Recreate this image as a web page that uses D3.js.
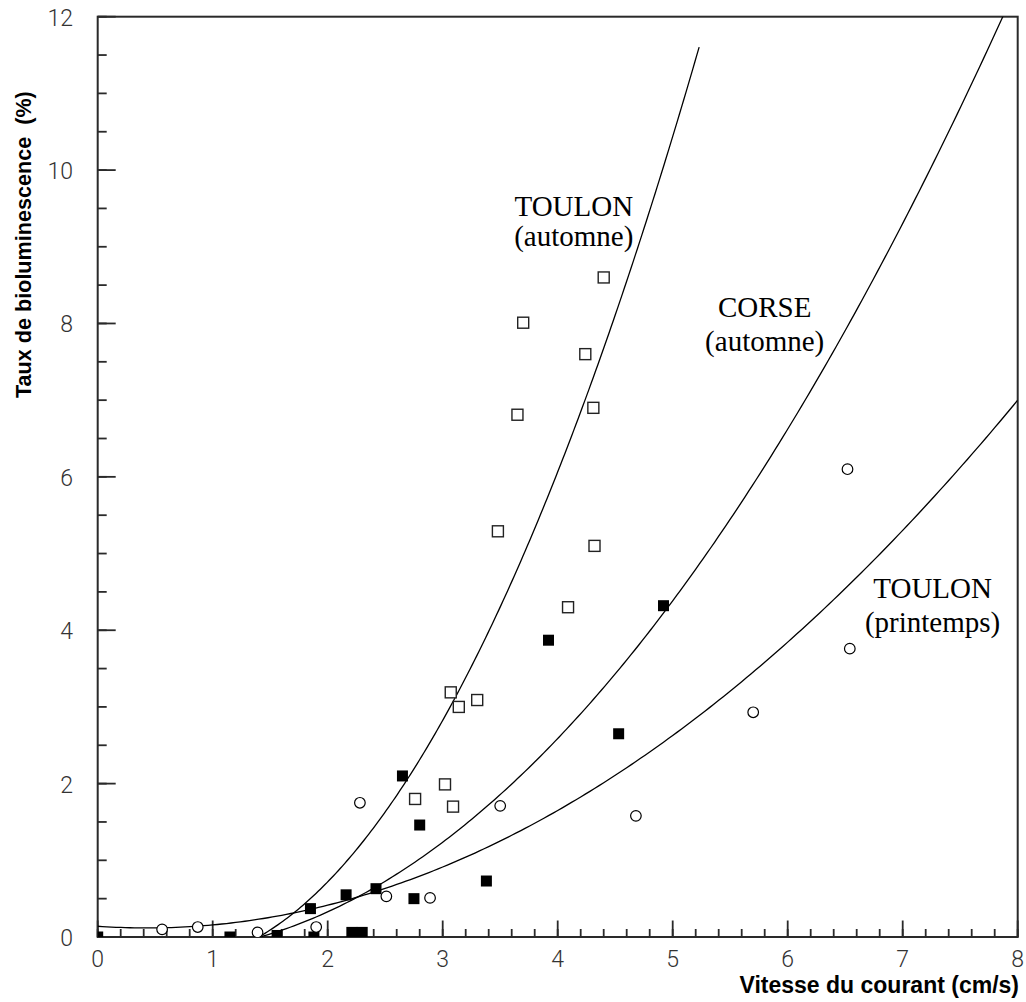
<!DOCTYPE html>
<html>
<head>
<meta charset="utf-8">
<script src="https://cdn.jsdelivr.net/npm/d3@7"></script>
<style>
  html, body { margin: 0; padding: 0; background: #fff; }
  svg { display: block; }
</style>
</head>
<body>
<svg id="chart" width="1026" height="1002"></svg>
<script>
// Measurements: current speed (cm/s) vs bioluminescence rate (%)
const toulonAutomnePts = [
  [2.76, 1.80], [3.02, 1.99], [3.09, 1.70], [3.07, 3.19], [3.14, 3.00],
  [3.30, 3.09], [3.48, 5.29], [3.65, 6.81], [3.70, 8.01], [4.09, 4.30],
  [4.24, 7.60], [4.31, 6.90], [4.32, 5.10], [4.40, 8.60]
];
const corseAutomnePts = [
  [0.00, 0.00], [1.15, 0.00], [1.56, 0.02], [1.88, 0.00], [2.21, 0.06],
  [2.30, 0.06], [1.85, 0.37], [2.16, 0.55], [2.42, 0.63], [2.75, 0.50],
  [2.65, 2.10], [2.80, 1.46], [3.38, 0.73], [3.92, 3.87], [4.53, 2.65],
  [4.92, 4.32]
];
const toulonPrintempsPts = [
  [0.56, 0.10], [0.87, 0.13], [1.39, 0.06], [1.90, 0.13], [2.28, 1.75],
  [2.51, 0.53], [2.89, 0.51], [3.50, 1.71], [4.68, 1.58], [5.70, 2.93],
  [6.52, 6.10], [6.54, 3.76]
];

// Quadratic trend fits y = a*x^2 + b*x + c, with the x range each is drawn over
const toulonAutomneFit = [0.5668, -0.728, -0.092];
const toulonAutomneRange = [1.40, 5.23];
const corseAutomneFit = [0.2217, -0.200, -0.159];
const corseAutomneRange = [1.41, 8.0];
const toulonPrintempsFit = [0.12, -0.1025, 0.14];
const toulonPrintempsRange = [0.0, 8.0];

const xTicks = [0, 1, 2, 3, 4, 5, 6, 7, 8];
const yTicks = [0, 2, 4, 6, 8, 10, 12];
const xTitle = "Vitesse du courant (cm/s)";
const yTitle = "Taux de bioluminescence  (%)";

const curveLabels = [
  { lines: ["TOULON", "(automne)"], x: 4.14, y: [9.40, 9.01] },
  { lines: ["CORSE", "(automne)"], x: 5.80, y: [8.08, 7.64] },
  { lines: ["TOULON", "(printemps)"], x: 7.26, y: [4.42, 3.98] }
];

const svg = d3.select("#chart");
const plot = { left: 97.7, right: 1017.7, top: 16.7, bottom: 937 };

const x = d3.scaleLinear().domain([0, 8]).range([plot.left, plot.right]);
const y = d3.scaleLinear().domain([0, 12]).range([plot.bottom, plot.top]);

svg.append("defs").append("clipPath").attr("id", "plotClip")
  .append("rect").attr("x", plot.left).attr("y", plot.top)
  .attr("width", plot.right - plot.left).attr("height", plot.bottom - plot.top);

const axisColor = "#2a2a2a";

// Frame
svg.append("rect")
  .attr("x", plot.left).attr("y", plot.top)
  .attr("width", plot.right - plot.left).attr("height", plot.bottom - plot.top)
  .attr("fill", "none").attr("stroke", axisColor).attr("stroke-width", 2);

// Ticks pointing into the plot: majors on labelled values, minors between
const xMinor = d3.range(0, 41).map(i => i * 0.2);
const yMinor = d3.range(0, 25).map(i => i * 0.5);
const tickG = svg.append("g");
tickG.selectAll(".xMin").data(xMinor).join("line").attr("class", "xMin")
  .attr("x1", d => x(d)).attr("x2", d => x(d))
  .attr("y1", plot.bottom).attr("y2", plot.bottom - 8)
  .attr("stroke", axisColor).attr("stroke-width", 1.8);
tickG.selectAll(".xMaj").data(xTicks).join("line").attr("class", "xMaj")
  .attr("x1", d => x(d)).attr("x2", d => x(d))
  .attr("y1", plot.bottom).attr("y2", plot.bottom - 16.5)
  .attr("stroke", axisColor).attr("stroke-width", 1.8);
tickG.selectAll(".yMin").data(yMinor).join("line").attr("class", "yMin")
  .attr("x1", plot.left).attr("x2", plot.left + 9)
  .attr("y1", d => y(d)).attr("y2", d => y(d))
  .attr("stroke", axisColor).attr("stroke-width", 1.8);
tickG.selectAll(".yMaj").data(yTicks).join("line").attr("class", "yMaj")
  .attr("x1", plot.left).attr("x2", plot.left + 18)
  .attr("y1", d => y(d)).attr("y2", d => y(d))
  .attr("stroke", axisColor).attr("stroke-width", 1.8);

// Tick labels
const tickFont = "Roboto, 'Liberation Sans', sans-serif";
svg.append("g").selectAll("text").data(xTicks).join("text")
  .attr("x", d => x(d)).attr("y", 967)
  .attr("text-anchor", "middle")
  .attr("font-family", tickFont).attr("font-weight", 300)
  .attr("font-size", 23).attr("fill", "#333")
  .text(d => d);
svg.append("g").selectAll("text").data(yTicks).join("text")
  .attr("x", 73).attr("y", d => y(d) + 9)
  .attr("text-anchor", "end")
  .attr("font-family", tickFont).attr("font-weight", 300)
  .attr("font-size", 23).attr("fill", "#333")
  .text(d => d);

// Axis titles
svg.append("text")
  .attr("x", 1019).attr("y", 993)
  .attr("text-anchor", "end")
  .attr("font-family", "'Liberation Sans', Arial, sans-serif")
  .attr("font-weight", "bold").attr("font-size", 23).attr("fill", "#000")
  .text(xTitle);
svg.append("text")
  .attr("transform", "translate(31,398) rotate(-90)")
  .attr("text-anchor", "start")
  .attr("font-family", "'Liberation Sans', Arial, sans-serif")
  .attr("font-weight", "bold").attr("font-size", 21.6).attr("fill", "#000")
  .style("white-space", "pre")
  .text(yTitle);

// Trend curves, evaluated on a fine grid across each fit's range
const line = d3.line().x(d => x(d[0])).y(d => y(d[1]));
const curves = svg.append("g").attr("clip-path", "url(#plotClip)");
[[toulonAutomneFit, toulonAutomneRange],
 [corseAutomneFit, corseAutomneRange],
 [toulonPrintempsFit, toulonPrintempsRange]].forEach(([[a, b, c], [x0, x1]]) => {
  const n = 200;
  const pts = d3.range(n + 1).map(i => {
    const v = x0 + (x1 - x0) * i / n;
    return [v, a * v * v + b * v + c];
  });
  curves.append("path").attr("d", line(pts))
    .attr("fill", "none").attr("stroke", "#000").attr("stroke-width", 1.3);
});

// Markers
const marks = svg.append("g").attr("clip-path", "url(#plotClip)");
const sq = 11;
marks.selectAll(".openSq").data(toulonAutomnePts).join("rect")
  .attr("class", "openSq")
  .attr("x", d => x(d[0]) - sq / 2).attr("y", d => y(d[1]) - sq / 2)
  .attr("width", sq).attr("height", sq)
  .attr("fill", "#fff").attr("stroke", "#222").attr("stroke-width", 1.4);
const fs = 11;
marks.selectAll(".fillSq").data(corseAutomnePts).join("rect")
  .attr("class", "fillSq")
  .attr("x", d => x(d[0]) - fs / 2).attr("y", d => y(d[1]) - fs / 2)
  .attr("width", fs).attr("height", fs)
  .attr("fill", "#000");
marks.selectAll(".openCirc").data(toulonPrintempsPts).join("circle")
  .attr("class", "openCirc")
  .attr("cx", d => x(d[0])).attr("cy", d => y(d[1])).attr("r", 5.3)
  .attr("fill", "#fff").attr("stroke", "#000").attr("stroke-width", 1.2);

// Curve labels
curveLabels.forEach(lbl => {
  lbl.lines.forEach((t, i) => {
    svg.append("text")
      .attr("x", x(lbl.x)).attr("y", y(lbl.y[i]))
      .attr("text-anchor", "middle")
      .attr("font-family", "'Liberation Serif', 'Times New Roman', serif")
      .attr("font-size", 29).attr("fill", "#000")
      .text(t);
  });
});
</script>
</body>
</html>
